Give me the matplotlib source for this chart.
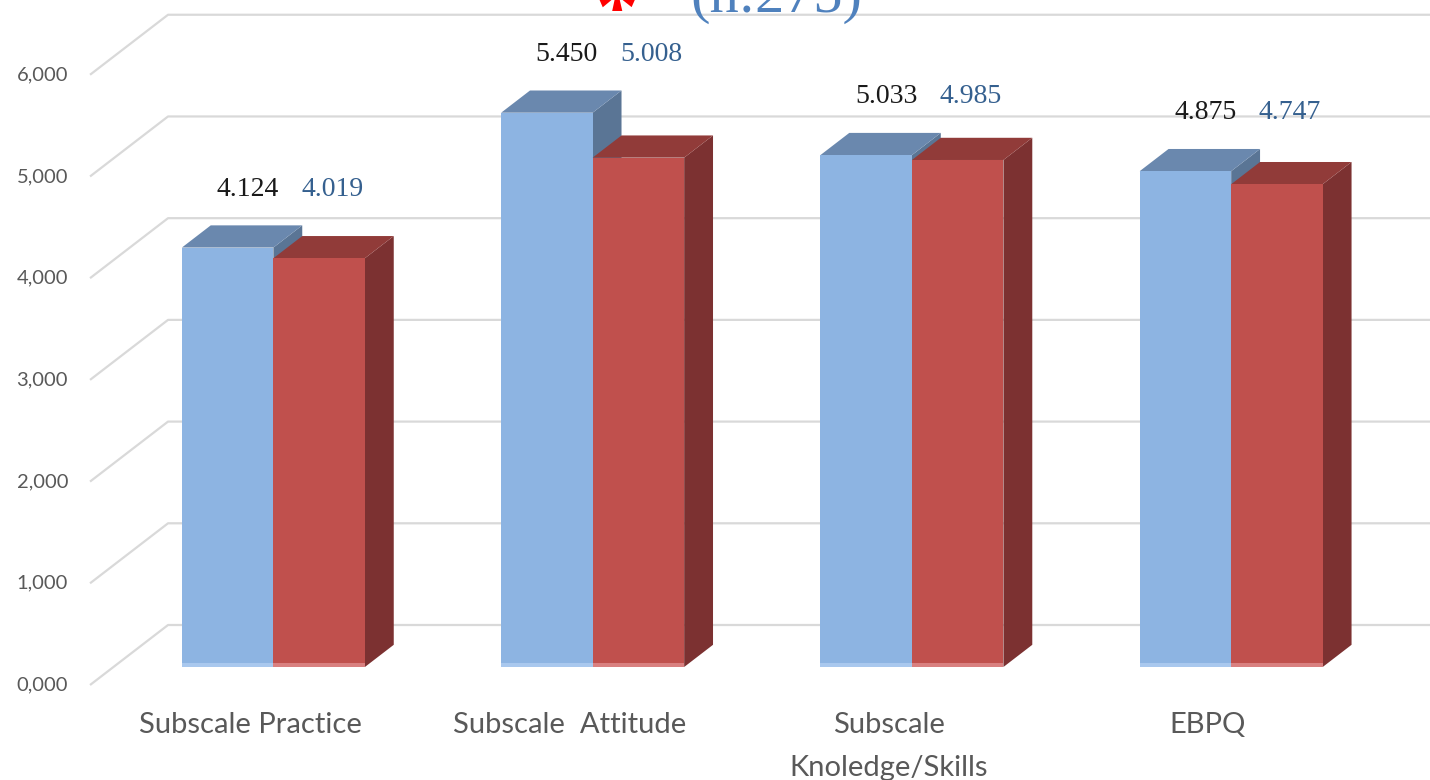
import numpy as np
import matplotlib.pyplot as plt
from matplotlib.patches import Polygon

# chart data
categories = ["Subscale Practice", "Subscale  Attitude", "Subscale\nKnoledge/Skills", "EBPQ"]
group_a = [4.124, 5.450, 5.033, 4.875]
group_b = [4.019, 5.008, 4.985, 4.747]
label_a = ["4.124", "5.450", "5.033", "4.875"]
label_b = ["4.019", "5.008", "4.985", "4.747"]
yticks = [0, 1, 2, 3, 4, 5, 6]
ytick_labels = ["0,000", "1,000", "2,000", "3,000", "4,000", "5,000", "6,000"]

# colours: front, top, side, bottom strip
blue = ["#8db4e2", "#6a88ae", "#5a7595", "#a9c8ee"]
red = ["#c0504d", "#913b39", "#7c3131", "#d98080"]
grid_c = "#d9d9d9"
tick_c = "#595959"

fig = plt.figure(figsize=(14.3, 7.8), dpi=100)
ax = fig.add_axes([0, 0, 1, 1])
XMIN, XMAX = -0.783, 3.696
YMIN, YMAX = -0.934, 6.735
ax.set_xlim(XMIN, XMAX)
ax.set_ylim(YMIN, YMAX)
ax.axis("off")

pxx = 1430 / (XMAX - XMIN)   # pixels per x unit
pxy = 780 / (YMAX - YMIN)    # pixels per y unit

# oblique depth vector (full wall depth)
DX = 78 / pxx
DY = 60 / pxy
X_AX = -0.501
W = 0.2866
D0, D1 = 0.3, 0.67


def proj(x, y, d):
    return (x + d * DX, y + d * DY)


# walls / gridlines
for v, lab in zip(yticks, ytick_labels):
    p0 = proj(X_AX, v, 0)
    p1 = proj(X_AX, v, 1)
    ax.plot([p0[0], p1[0], XMAX], [p0[1], p1[1], p1[1]], color=grid_c, lw=1.6,
            zorder=1, solid_capstyle="butt")
    ax.text(X_AX - 22 / pxx, v, lab, ha="right", va="center", fontsize=14.5,
            color=tick_c, family=["Lato", "DejaVu Sans"])


def box(x0, x1, v, cols, z):
    front = [proj(x0, 0, D0), proj(x1, 0, D0), proj(x1, v, D0), proj(x0, v, D0)]
    top = [proj(x0, v, D0), proj(x1, v, D0), proj(x1, v, D1), proj(x0, v, D1)]
    side = [proj(x1, 0, D0), proj(x1, 0, D1), proj(x1, v, D1), proj(x1, v, D0)]
    strip_h = 4 / pxy
    strip = [proj(x0, 0, D0), proj(x1, 0, D0), proj(x1, strip_h, D0), proj(x0, strip_h, D0)]
    for pts, c in [(side, cols[2]), (top, cols[1]), (front, cols[0]), (strip, cols[3])]:
        ax.add_patch(Polygon(pts, closed=True, facecolor=c, edgecolor="none", zorder=z))


for i in range(len(categories)):
    box(i - W, i, group_a[i], blue, 2 + i * 2)
    box(i, i + W, group_b[i], red, 3 + i * 2)

    top_y = max(group_a[i], group_b[i]) + D1 * DY + 36 / pxy
    xa = i - W / 2 + D0 * DX + 20 / pxx
    xb = i + W / 2 + D0 * DX + 13 / pxx
    ax.text(xa, top_y, label_a[i], ha="center", va="center", fontsize=20,
            color="#1a1a1a", family="Liberation Serif", zorder=20)
    ax.text(xb, top_y, label_b[i], ha="center", va="center", fontsize=20,
            color="#35608f", family="Liberation Serif", zorder=20)

    ax.text(i, -(712 - 685) / pxy, categories[i], ha="center", va="top",
            fontsize=21, color=tick_c, family=["Lato", "DejaVu Sans"],
            linespacing=1.8)

# title, mostly cut off at the top
ax.text(1.149, (685 - 35) / pxy, "*", ha="center", va="baseline", fontsize=64,
        color="#ff0000", family="Liberation Serif", fontweight="bold")
ax.text(1.650, (685 - 12) / pxy, "(n:275)", ha="center", va="baseline", fontsize=42,
        color="#4f81bd", family="Liberation Serif")

fig.savefig("out.png", dpi=100)
